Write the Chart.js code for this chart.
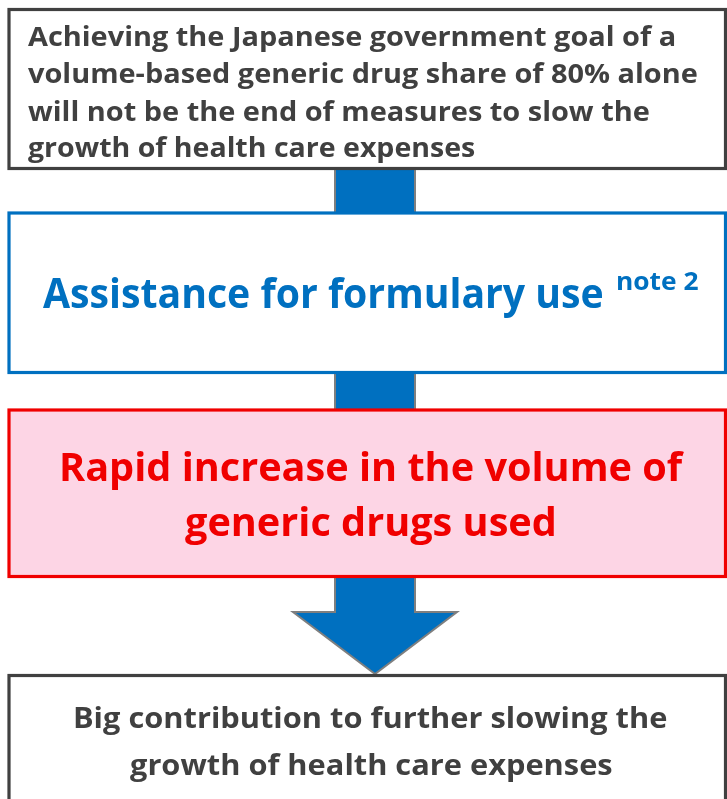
<!DOCTYPE html>
<html>
<head>
<meta charset="utf-8">
<script src="https://cdn.jsdelivr.net/npm/chart.js@4"></script>
<style>
  html, body { margin: 0; padding: 0; background: #ffffff; width: 727px; height: 799px; overflow: hidden; }
  #wrap { position: relative; width: 727px; height: 799px; }
  canvas { display: block; }
</style>
</head>
<body>
<div id="wrap"><canvas id="c" width="727" height="799"></canvas></div>
<script>
// ---- content (text) ----
const topBoxLines = [
  "Achieving the Japanese government goal of a",
  "volume-based generic drug share of 80% alone",
  "will not be the end of measures to slow the",
  "growth of health care expenses"
];
const middleBoxLines = ["Assistance for formulary use"];
const middleBoxNote = "note 2";
const highlightBoxLines = ["Rapid increase in the volume of", "generic drugs used"];
const bottomBoxLines = ["Big contribution to further slowing the", "growth of health care expenses"];

// ---- layout & style (in scale units: x 0..727, y 0..799 top-down) ----
const FONT = '"Open Sans", "Noto Sans", "DejaVu Sans", sans-serif';
const CAP = 0.714;
const boxes = [
  { x0: 9, x1: 725.5, y0: 9.5, y1: 168.5, stroke: '#404040', fill: '#ffffff' },
  { x0: 9, x1: 725.5, y0: 213, y1: 372.5, stroke: '#0070c0', fill: '#ffffff' },
  { x0: 9, x1: 725.5, y0: 410, y1: 576.5, stroke: '#f00000', fill: '#fdd5e5' },
  { x0: 9, x1: 725.5, y0: 675.5, y1: 810, stroke: '#404040', fill: '#ffffff' }
];
const arrows = [
  [[335, 169], [415, 169], [415, 213], [335, 213]],
  [[335, 372], [415, 372], [415, 410], [335, 410]],
  [[335, 577], [415, 577], [415, 612], [457, 612], [375, 674], [293, 612], [335, 612]]
];
// text placement: each line -> baseline, cap height, left/right extent
const textBlocks = [
  { lines: topBoxLines, color: '#404040', cap: 19,
    place: [[28, 675, 46], [28, 697, 83], [28, 649, 120.5], [28, 475, 157]] },
  { lines: middleBoxLines, color: '#0070c0', cap: 30,
    place: [[43, 603, 308]] },
  { lines: [middleBoxNote], color: '#0070c0', cap: 18,
    place: [[617, 698, 290]] },
  { lines: highlightBoxLines, color: '#f00000', cap: 28,
    place: [[62, 684, 481], [185, 554, 536]] },
  { lines: bottomBoxLines, color: '#404040', cap: 21,
    place: [[75, 667, 728], [130, 612, 775]] }
];

const flowPlugin = {
  id: 'flow',
  beforeDatasetsDraw(chart) {
    const ctx = chart.ctx;
    const xs = chart.scales.x, ys = chart.scales.y;
    const px = v => xs.getPixelForValue(v);
    const py = v => ys.getPixelForValue(v);
    ctx.save();
    // fills
    boxes.forEach(b => {
      ctx.fillStyle = b.fill;
      ctx.fillRect(px(b.x0), py(b.y0), px(b.x1) - px(b.x0), py(b.y1) - py(b.y0));
    });
    // arrows
    arrows.forEach(pts => {
      ctx.beginPath();
      pts.forEach((p, i) => i ? ctx.lineTo(px(p[0]), py(p[1])) : ctx.moveTo(px(p[0]), py(p[1])));
      ctx.closePath();
      ctx.fillStyle = '#0070c0';
      ctx.fill();
      ctx.lineWidth = 2;
      ctx.strokeStyle = '#7f7f7f';
      ctx.lineJoin = 'miter';
      ctx.stroke();
    });
    // box borders
    boxes.forEach(b => {
      ctx.lineWidth = 3.2;
      ctx.strokeStyle = b.stroke;
      ctx.strokeRect(px(b.x0), py(b.y0), px(b.x1) - px(b.x0), py(b.y1) - py(b.y0));
    });
    // text
    ctx.textBaseline = 'alphabetic';
    ctx.textAlign = 'left';
    textBlocks.forEach(tb => {
      const size = tb.cap / CAP;
      ctx.font = '700 ' + size.toFixed(2) + 'px ' + FONT;
      ctx.fillStyle = tb.color;
      tb.lines.forEach((t, i) => {
        const [l, r, base] = tb.place[i];
        const m = ctx.measureText(t);
        const w = m.actualBoundingBoxRight + m.actualBoundingBoxLeft;
        const s = (px(r) - px(l)) / w;
        ctx.save();
        ctx.translate(px(l), py(base));
        ctx.scale(s, 1);
        ctx.fillText(t, m.actualBoundingBoxLeft, 0);
        ctx.restore();
      });
    });
    ctx.restore();
  }
};

new Chart(document.getElementById('c'), {
  type: 'scatter',
  data: { datasets: [{ data: [] }] },
  options: {
    responsive: false,
    animation: false,
    devicePixelRatio: 1,
    layout: { padding: 0 },
    plugins: { legend: { display: false }, tooltip: { enabled: false } },
    scales: {
      x: { type: 'linear', min: 0, max: 727, display: false },
      y: { type: 'linear', min: 0, max: 799, reverse: true, display: false }
    }
  },
  plugins: [flowPlugin]
});
</script>
</body>
</html>
